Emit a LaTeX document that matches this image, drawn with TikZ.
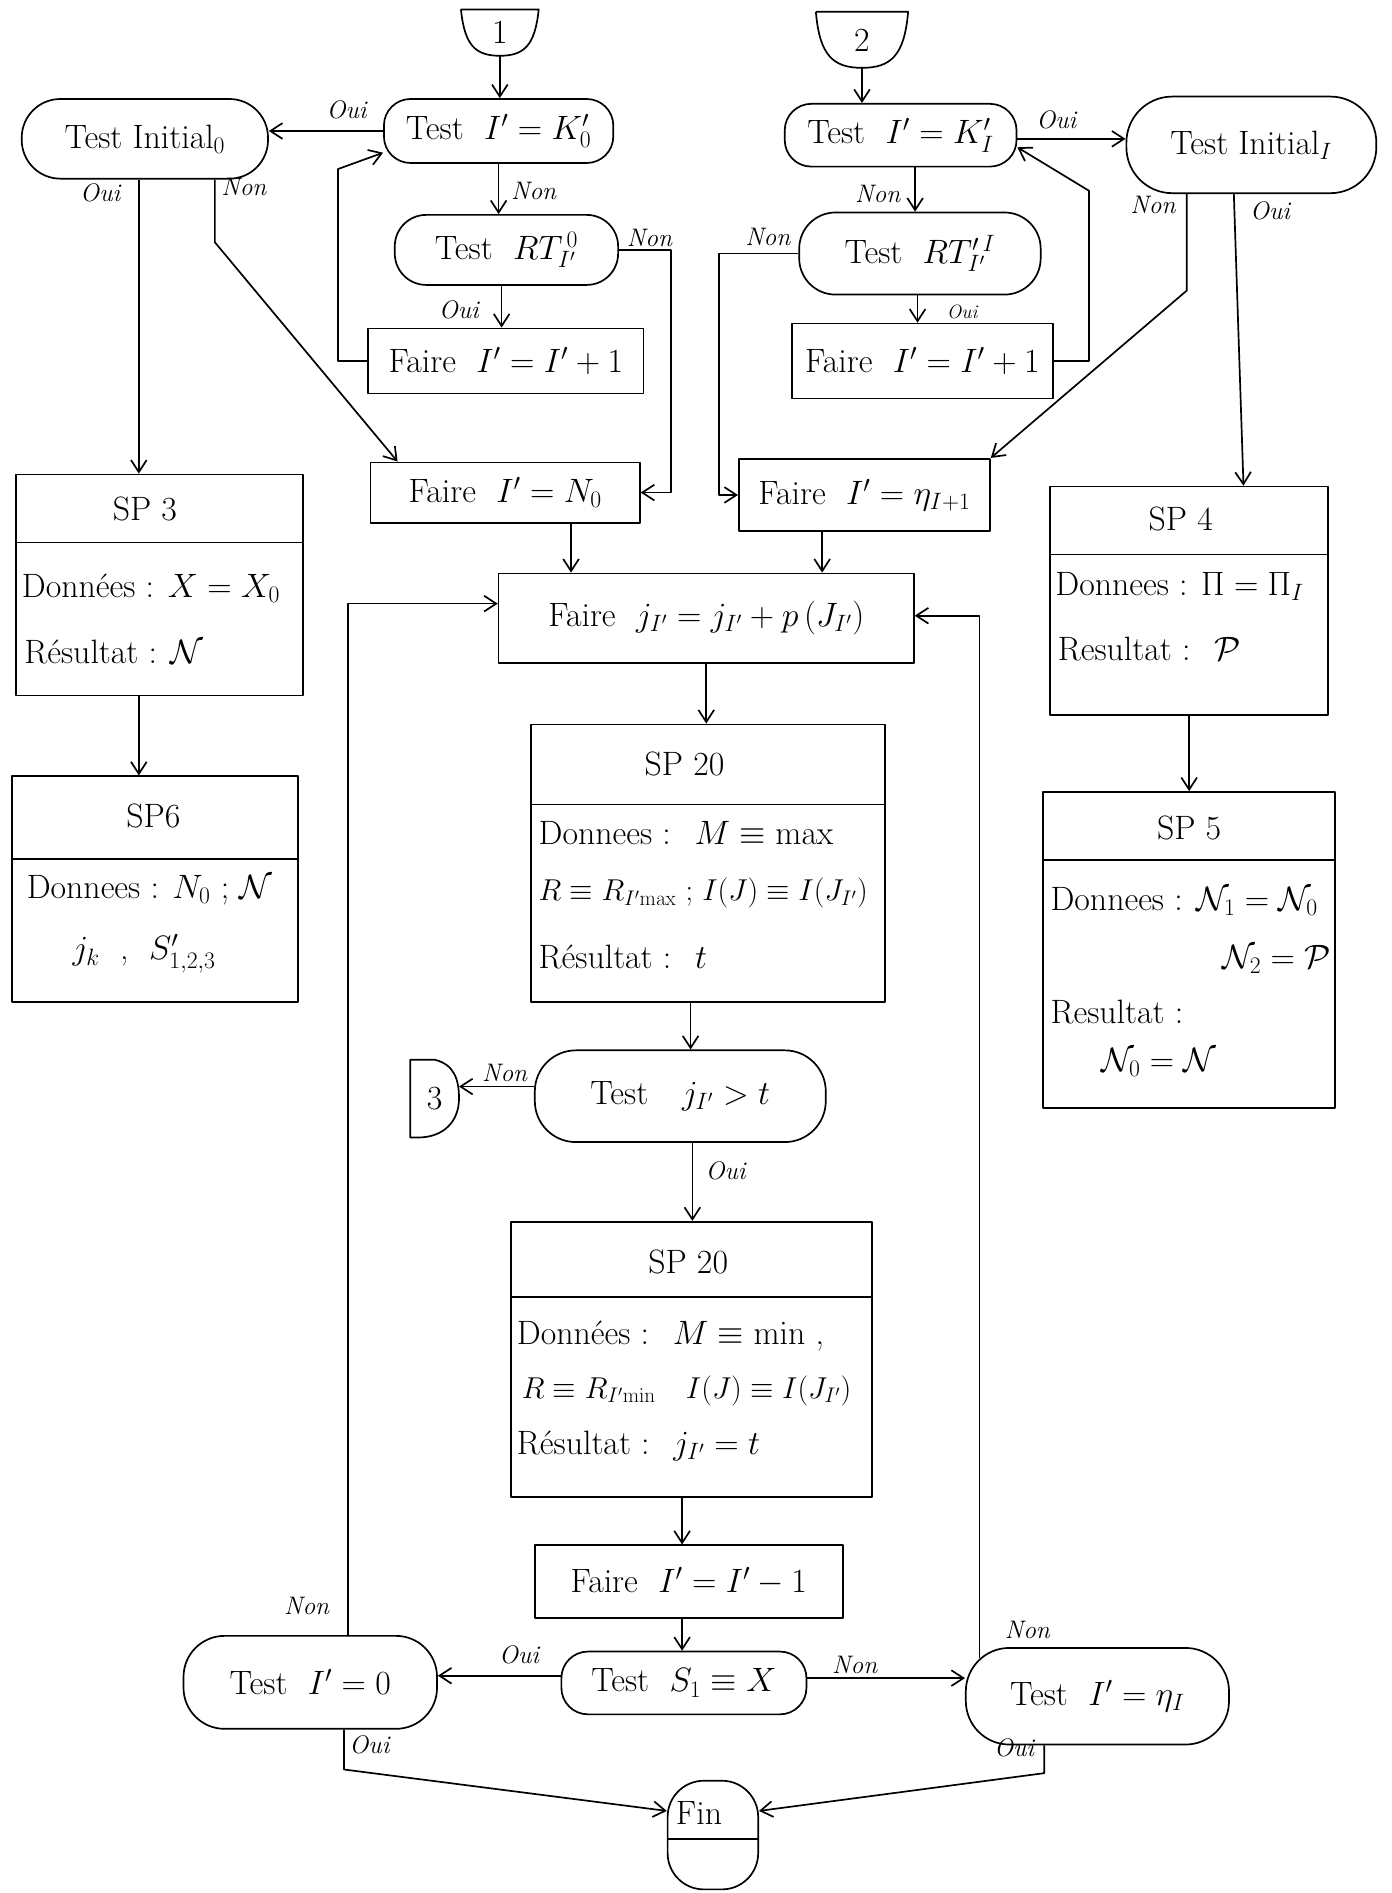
\documentclass[tikz,border=0pt]{standalone}
\usepackage{fix-cm}
\usetikzlibrary{arrows.meta}
\begin{document}
\begin{tikzpicture}[x=1pt,y=-1pt,
  every node/.style={font=\fontsize{28}{34}\selectfont, inner sep=0pt},
  ln/.style={line width=1.4pt, line join=round},
  arr/.style={ln, -{Straight Barb[length=10pt,width=13pt,line width=1.4pt]}},
  tst/.style 2 args={draw, ln, rounded corners=22pt, minimum width=#1pt, minimum height=#2pt},
  op/.style 2 args={draw, ln, rectangle, minimum width=#1pt, minimum height=#2pt},
  frame/.style 2 args={draw, ln, rectangle, minimum width=#1pt, minimum height=#2pt},
  conn/.style 2 args={minimum width=#1pt, minimum height=#2pt},
  lbl/.style={font=\fontsize{21}{24}\selectfont\itshape},
  body/.style={anchor=west},
]
\fill[white] (0,0) rectangle (1153,1568);
\useasboundingbox (0,0) rectangle (1153,1568);

% ---------- connectors 1, 2, 3
\node[conn={64}{38}] (c1) at (414,27) {1};
\draw[ln] (c1.north west) -- (c1.north east) .. controls ([xshift=-3pt,yshift=-30pt]c1.north east) and ([xshift=20pt]c1.south) .. (c1.south) .. controls ([xshift=-20pt]c1.south) and ([xshift=3pt,yshift=-30pt]c1.north west) .. (c1.north west);
\node[conn={76}{46}] (c2) at (714,33) {2};
\draw[ln] (c2.north west) -- (c2.north east) .. controls ([xshift=-3pt,yshift=-36pt]c2.north east) and ([xshift=24pt]c2.south) .. (c2.south) .. controls ([xshift=-24pt]c2.south) and ([xshift=3pt,yshift=-36pt]c2.north west) .. (c2.north west);
\node[conn={40}{64}] (c3) at (360,910) {3};
\draw[ln] (c3.north west) -- ([xshift=-20pt]c3.north east) .. controls ([xshift=-4pt,yshift=-4pt]c3.north east) and ([yshift=16pt]c3.east) .. (c3.east) .. controls ([yshift=-18pt]c3.east) and ([xshift=-12pt]c3.south east) .. ([xshift=-34pt]c3.south east) -- (c3.south west) -- cycle;

% ---------- left top column
\node[tst={190}{53}] (tk0) at (413,108.5) {Test\ \ $I' = K'_0$};
\node[tst={204}{66}, rounded corners=32pt] (ti0) at (120,115) {Test Initial$_0$};
\node[tst={185}{58}, rounded corners=26pt] (trt0) at (419.5,207) {Test\ \ $RT^{\,0}_{I'}$};
\node[op={228}{54}] (fi0) at (419,299) {Faire\ \ $I' = I' + 1$};
\node[op={223}{50}] (fn0) at (418.5,408) {Faire\ \ $I' = N_0$};

% ---------- right top column
\node[tst={192}{52}] (tki) at (746,112) {Test\ \ $I' = K'_I$};
\node[tst={207}{80}, rounded corners=38pt] (tii) at (1036.5,120) {Test Initial$_I$};
\node[tst={200}{68}, rounded corners=30pt] (trti) at (762,210) {Test\ \ $RT'^{\,I}_{I'}$};
\node[op={216}{62}] (fii) at (764,299) {Faire\ \ $I' = I' + 1$};
\node[op={208}{60}] (feta) at (716,410) {Faire\ \ $I' = \eta_{I+1}$};

% ---------- SP3 / SP6
\node[frame={238}{183}] (sp3) at (132,484.5) {};
\draw[ln] ([yshift=-57pt]sp3.north west) -- ([yshift=-57pt]sp3.north east);
\node (sp3h) at ([xshift=-12pt,yshift=-29pt]sp3.north) {SP 3};
\node[body] (sp3a) at (18,487) {Données : $X = X_0$};
\node[body] (sp3b) at (20,540) {Résultat : $\mathcal{N}$};

\node[frame={237}{187}] (sp6) at (128.5,736.5) {};
\draw[ln] ([yshift=-69pt]sp6.north west) -- ([yshift=-69pt]sp6.north east);
\node (sp6h) at (127,676) {SP6};
\node[body] (sp6a) at (22,737) {Donnees : $N_0$ ; $\mathcal{N}$};
\node[body] (sp6b) at (60,790) {$j_k$\ \ ,\ \ $S'_{1,2,3}$};

% ---------- SP4 / SP5
\node[frame={230}{189}] (sp4) at (985,497.5) {};
\draw[ln] ([yshift=-57pt]sp4.north west) -- ([yshift=-57pt]sp4.north east);
\node (sp4h) at (978,430) {SP 4};
\node[body] (sp4a) at (874,486) {Donnees : $\Pi = \Pi_I$};
\node[body] (sp4b) at (876,538) {Resultat : \ $\mathcal{P}$};

\node[frame={242}{262}] (sp5) at (985,787) {};
\draw[ln] ([yshift=-57pt]sp5.north west) -- ([yshift=-57pt]sp5.north east);
\node (sp5h) at (985,686) {SP 5};
\node[body] (sp5a) at (870,747) {Donnees : $\mathcal{N}_1 = \mathcal{N}_0$};
\node[body] (sp5b) at (1012,795) {$\mathcal{N}_2 = \mathcal{P}$};
\node[body] (sp5c) at (870,838) {Resultat :};
\node[body] (sp5d) at (912,880) {$\mathcal{N}_0 = \mathcal{N}$};

% ---------- centre column
\node[op={344}{74}] (fj) at (585,512) {Faire\ \ $j_{I'} = j_{I'} + p\,\bigl(J_{I'}\bigr)$};

\node[frame={293}{230}] (sp20a) at (586.5,715) {};
\draw[ln] ([yshift=-67pt]sp20a.north west) -- ([yshift=-67pt]sp20a.north east);
\node (sp20ah) at (567,633) {SP 20};
\node[body] (sp20a1) at (446,690) {Donnees : \ $M \equiv \mathrm{max}$};
\node[body, font=\fontsize{25}{30}\selectfont] (sp20a2) at (446,740) {$R \equiv R_{I'\mathrm{max}}$ ; $I(J) \equiv I(J_{I'})$};
\node[body] (sp20a3) at (446,793) {Résultat : \ $t$};

\node[tst={241}{76}, rounded corners=34pt] (tj) at (563.5,908) {Test\quad $j_{I'} > t$};

\node[frame={299}{228}] (sp20b) at (572.5,1126) {};
\draw[ln] ([yshift=-63pt]sp20b.north west) -- ([yshift=-63pt]sp20b.north east);
\node (sp20bh) at (570,1045) {SP 20};
\node[body] (sp20b1) at (428,1107) {Données : \ $M \equiv \mathrm{min}$ ,};
\node[body, font=\fontsize{25}{30}\selectfont] (sp20b2) at (432,1152) {$R \equiv R_{I'\mathrm{min}}$\quad $I(J) \equiv I(J_{I'})$};
\node[body] (sp20b3) at (428,1198) {Résultat : \ $j_{I'} = t$};

\node[op={255}{60}] (fd) at (570.5,1310) {Faire\ \ $I' = I' - 1$};
\node[tst={203}{52}] (ts) at (566.5,1394) {Test\ \ $S_1 \equiv X$};
\node[tst={210}{77}, rounded corners=34pt] (tz) at (257,1393.5) {Test\ \ $I' = 0$};
\node[tst={218}{80}, rounded corners=36pt] (teta) at (909,1405) {Test\ \ $I' = \eta_I$};
\node[draw, ln, rounded corners=30pt, minimum width=75pt, minimum height=90pt] (fin) at (590.5,1520) {};
\node (fintxt) at (579,1502) {Fin};
\draw[ln] ([yshift=-3pt]fin.west) -- ([yshift=-3pt]fin.east);

% ---------- connectors
\draw[arr] (c1.south) -- (c1.south |- tk0.north);
\draw[arr] (tk0.west) -- (tk0.west -| ti0.east);
\draw[arr] (tk0.south) -- (tk0.south |- trt0.north);
\draw[arr] ([xshift=-4pt]trt0.south) -- ([xshift=-4pt]trt0.south |- fi0.north);
\draw[arr] (fi0.west) -| (280,140) -- ([yshift=-18pt]tk0.west);
\draw[arr] (trt0.east) -| ([xshift=25pt]fn0.east) -- (fn0.east);
\draw[arr] ([xshift=-5pt]ti0.south) -- ([xshift=-5pt]ti0.south |- sp3.north);
\draw[arr] ([xshift=58pt]ti0.south) -- ++(0,52) -- ([xshift=23pt]fn0.north west);

\draw[arr] (c2.south) -- (c2.south |- tki.north);
\draw[arr] ([yshift=-3pt]tki.east) -- ([yshift=-3pt]tki.east -| tii.west);
\draw[arr] ([xshift=12pt]tki.south) -- ([xshift=12pt]tki.south |- trti.north);
\draw[arr] ([xshift=-2pt]trti.south) -- ([xshift=-2pt]trti.south |- fii.north);
\draw[arr] (fii.east) -| (902,158) -- ([yshift=-10pt]tki.east);
\draw[arr] (trti.west) -| ([xshift=-16pt]feta.west) -- (feta.west);
\draw[arr] ([xshift=-53.5pt]tii.south) -- ++(0,80) -- (feta.north east);
\draw[arr] ([xshift=-14.5pt]tii.south) -- ([xshift=45pt]sp4.north);

\draw[arr] ([xshift=-17pt]sp3.south) -- ([xshift=-17pt]sp3.south |- sp6.north);
\draw[arr] (sp4.south) -- (sp4.south |- sp5.north);

\draw[arr] ([xshift=54.5pt]fn0.south) -- ([xshift=54.5pt]fn0.south |- fj.north);
\draw[arr] ([xshift=-35pt]feta.south) -- ([xshift=-35pt]feta.south |- fj.north);
\draw[arr] (fj.south) -- (fj.south |- sp20a.north);
\draw[arr] ([xshift=-14.5pt]sp20a.south) -- ([xshift=-14.5pt]sp20a.south |- tj.north);
\draw[arr] ([yshift=8pt]tj.west) -- ([yshift=8pt]tj.west -| c3.east);
\draw[arr] ([xshift=10pt]tj.south) -- ([xshift=10pt]tj.south |- sp20b.north);
\draw[arr] ([xshift=-7.5pt]sp20b.south) -- ([xshift=-7.5pt]sp20b.south |- fd.north);
\draw[arr] ([xshift=-5.5pt]fd.south) -- ([xshift=-5.5pt]fd.south |- ts.north);
\draw[arr] ([yshift=6pt]ts.west) -- ([yshift=6pt]ts.west -| tz.east);
\draw[arr] ([yshift=4pt]ts.east) -- ([yshift=4pt]ts.east -| teta.west);
\draw[arr] ([xshift=31pt]tz.north) |- ([yshift=12pt]fj.west);
\draw[arr] ([xshift=12pt,yshift=-9pt]teta.north west) |- ([yshift=2pt]fj.east);
\draw[arr] ([xshift=28pt]tz.south) -- ++(0,33) -- ([yshift=20pt]fin.west);
\draw[arr] ([xshift=-44pt]teta.south) -- ++(0,23) -- ([yshift=20pt]fin.east);

% ---------- labels
\node[lbl] (l1) at (287,91) {Oui};
\node[lbl] (l2) at (442,158) {Non};
\node[lbl] (l3) at (538,197) {Non};
\node[lbl] (l4) at (380,257) {Oui};
\node[lbl] (l5) at (83,160) {Oui};
\node[lbl] (l6) at (202,155) {Non};
\node[lbl] (l7) at (875,99) {Oui};
\node[lbl] (l8) at (727,161) {Non};
\node[lbl] (l9) at (636,196) {Non};
\node[lbl, font=\fontsize{16}{20}\selectfont\itshape] (l10) at (797,258) {Oui};
\node[lbl] (l11) at (955,170) {Non};
\node[lbl] (l12) at (1052,175) {Oui};
\node[lbl] (l13) at (418,889) {Non};
\node[lbl] (l14) at (601,970) {Oui};
\node[lbl] (l15) at (430,1371) {Oui};
\node[lbl] (l16) at (708,1379) {Non};
\node[lbl] (l17) at (254,1330) {Non};
\node[lbl] (l18) at (851,1350) {Non};
\node[lbl] (l19) at (306,1445) {Oui};
\node[lbl] (l20) at (840,1448) {Oui};
\end{tikzpicture}
\end{document}
